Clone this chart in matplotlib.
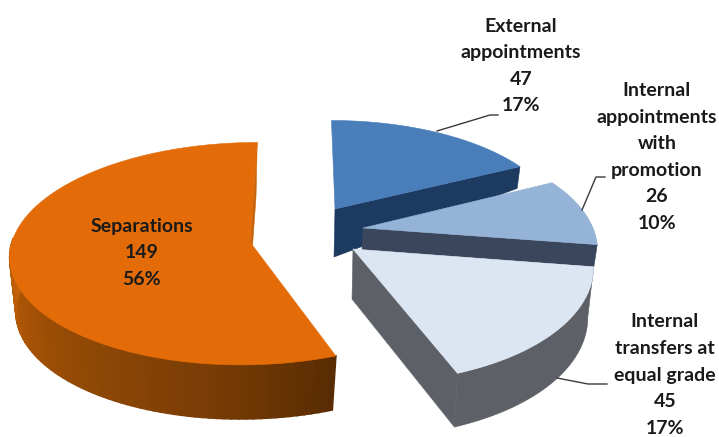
import numpy as np
import matplotlib
matplotlib.use("Agg")
import matplotlib.pyplot as plt
from matplotlib.colors import LinearSegmentedColormap

# Staffing movements, counted per category
categories = ["External\nappointments",
              "Internal\nappointments\nwith\npromotion",
              "Internal\ntransfers at\nequal grade",
              "Separations"]
counts = [47, 26, 45, 149]
shares = [17, 10, 17, 56]

# Camera set-up of each exploded slice: hub position in pixels, radii,
# perspective strength, lean of the vertical axis
hub_x = [335, 363, 353, 250]
hub_y = [209, 228, 249, 242]
radius_x = [221, 230, 238, 238]
radius_y = [100, 110, 120, 110]
persp = [0.13, 0.196, 0.105, 0.105]
lean = [-4, 0, -10, 8]
# Lower rim of each slice: drop at the hub and scale against the upper rim
drop = [48, 22, 50, 54]
floor_fx = [0.99, 0.99, 0.98, 0.97]
floor_fy = [1.62, 1.0, 1.03, 1.0]

top_colors = ["#4a7ebb", "#95b3d7", "#dce6f2", "#e36c09"]
cut_colors = ["#1d3a60", "#3a465c", "#5d6066", "#c8650c"]
side_ramp = LinearSegmentedColormap.from_list(
    "rim", ["#5a2c03", "#7a3d05", "#8f4805", "#a85306", "#c46208"])

text_labels = [(521, 66), (657, 157), (665, 375), (142, 253)]
leaders = [[(437, 131), (490, 115), (498, 115)],
           [(582, 210), (596, 177), (605, 177)],
           [(557, 378), (588, 384), (607, 384)]]


def project(i, t, floor=False):
    """Map clockwise angle t (radians from twelve o'clock) on slice i to pixels."""
    s = 1.0 / (1.0 + persp[i] * np.cos(t))
    dx = (radius_x[i] * np.sin(t) + lean[i] * np.cos(t)) * s
    dy = -radius_y[i] * np.cos(t) * s
    if floor:
        return (hub_x[i] - 1 + dx * floor_fx[i],
                hub_y[i] + drop[i] + dy * floor_fy[i])
    return hub_x[i] + dx, hub_y[i] + dy


fig = plt.figure(figsize=(7.19, 4.37), dpi=100)
ax = fig.add_axes([0, 0, 1, 1])
ax.set_xlim(0, 719)
ax.set_ylim(437, 0)
ax.axis("off")

bounds = np.radians(np.concatenate([[0], np.cumsum(counts)]) / sum(counts) * 360)
draw_order = [3, 0, 1, 2]
for z, i in enumerate(draw_order):
    t0, t1 = bounds[i], bounds[i + 1]
    base = 2 + z * 3
    # radial face at the trailing edge
    tx, ty = project(i, t1)
    bx, by = project(i, t1, floor=True)
    ax.fill([hub_x[i], tx, bx, hub_x[i] - 1],
            [hub_y[i], ty, by, hub_y[i] + drop[i]],
            color=cut_colors[i], lw=0.4, zorder=base)
    # outer rim: plain on the transfers slice, shaded on separations
    if i == 2:
        tt = np.linspace(t0, t1, 80)
        ux, uy = project(i, tt)
        lx, ly = project(i, tt, floor=True)
        ax.fill(np.r_[ux, lx[::-1]], np.r_[uy, ly[::-1]],
                color=cut_colors[i], lw=0.4, zorder=base)
    elif i == 3:
        end = np.radians(272)
        tt = np.linspace(t0, end, 70)
        for a, b in zip(tt[:-1], tt[1:]):
            seg = np.array([a, b])
            ux, uy = project(i, seg)
            lx, ly = project(i, seg, floor=True)
            ax.fill(np.r_[ux, lx[::-1]], np.r_[uy, ly[::-1]],
                    color=side_ramp((a - t0) / (end - t0)), lw=1.2,
                    zorder=base)
    # upper surface
    tt = np.linspace(t0, t1, 120)
    ux, uy = project(i, tt)
    ax.fill(np.r_[hub_x[i], ux], np.r_[hub_y[i], uy],
            color=top_colors[i], lw=0.4, zorder=base + 1)

for path in leaders:
    xs, ys = zip(*path)
    ax.plot(xs, ys, color="#3a3a3a", lw=1.0, zorder=20)

for name, n, pct, (x, y) in zip(categories, counts, shares, text_labels):
    ax.text(x, y, f"{name}\n{n}\n{pct}%", ha="center", va="center",
            family="Lato", weight="bold", fontsize=14, color="#1a1a1a",
            linespacing=1.68, zorder=21)

fig.savefig("out.png", dpi=100)
